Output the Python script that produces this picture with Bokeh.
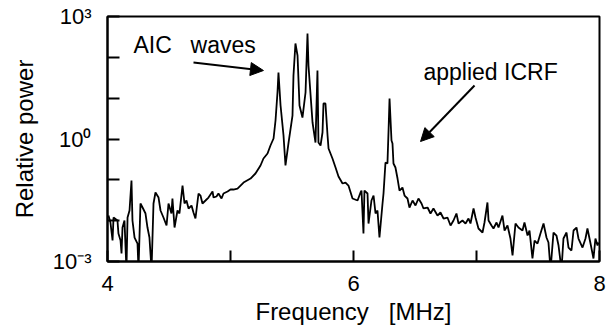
from bokeh.plotting import figure
from bokeh.models import Range1d, FixedTicker, Arrow, NormalHead, Label
from bokeh.embed import file_html
from bokeh.resources import INLINE

# ---- data ----
freq_mhz = [
    4.008, 4.024, 4.041, 4.049, 4.081, 4.089, 4.106, 4.114, 4.122, 4.138,
    4.154, 4.163, 4.179, 4.195, 4.203, 4.220, 4.244, 4.252, 4.268, 4.285,
    4.309, 4.325, 4.341, 4.358, 4.374, 4.390, 4.415, 4.431, 4.455, 4.480,
    4.496, 4.520, 4.528, 4.545, 4.569, 4.585, 4.610, 4.626, 4.642, 4.659,
    4.683, 4.699, 4.715, 4.740, 4.756, 4.772, 4.797, 4.821, 4.854, 4.862,
    4.886, 4.902, 4.927, 4.943, 4.976, 5.000, 5.024, 5.057, 5.106, 5.163,
    5.203, 5.244, 5.268, 5.301, 5.325, 5.350, 5.366, 5.382, 5.390, 5.407,
    5.431, 5.447, 5.472, 5.504, 5.512, 5.528, 5.545, 5.561, 5.585, 5.610,
    5.626, 5.634, 5.667, 5.691, 5.707, 5.715, 5.732, 5.748, 5.756, 5.772,
    5.789, 5.797, 5.829, 5.854, 5.878, 5.911, 5.935, 5.959, 5.992, 6.033,
    6.057, 6.065, 6.081, 6.089, 6.114, 6.122, 6.146, 6.163, 6.179, 6.195,
    6.211, 6.236, 6.244, 6.260, 6.276, 6.285, 6.293, 6.309, 6.317, 6.325,
    6.341, 6.358, 6.374, 6.398, 6.415, 6.439, 6.455, 6.480, 6.504, 6.528,
    6.553, 6.569, 6.602, 6.626, 6.650, 6.683, 6.707, 6.732, 6.764, 6.789,
    6.813, 6.837, 6.854, 6.886, 6.911, 6.935, 6.951, 6.976, 6.992, 7.016,
    7.049, 7.065, 7.089, 7.098, 7.122, 7.138, 7.163, 7.179, 7.211, 7.228,
    7.252, 7.276, 7.293, 7.317, 7.341, 7.374, 7.390, 7.415, 7.431, 7.455,
    7.472, 7.496, 7.520, 7.545, 7.569, 7.585, 7.602, 7.626, 7.650, 7.667,
    7.691, 7.707, 7.732, 7.748, 7.772, 7.789, 7.813, 7.829, 7.862, 7.886,
    7.902, 7.927, 7.951, 7.967, 7.984, 7.992,
]
log_power = [
    -1.874, -2.045, -2.486, -1.923, -1.996, -2.315, -2.486, -2.805, -2.168, -1.996,
    -3.200, -1.923, -1.751, -1.017, -1.996, -2.413, -2.560, -3.200, -1.580, -1.678,
    -1.825, -2.168, -2.413, -3.200, -1.580, -1.310, -1.433, -1.751, -1.923, -2.119,
    -1.580, -1.825, -1.457, -2.168, -1.751, -1.825, -1.139, -1.580, -1.506, -1.702,
    -1.629, -1.800, -1.947, -1.335, -1.384, -1.580, -1.506, -1.433, -1.286, -1.433,
    -1.408, -1.335, -1.457, -1.335, -1.286, -1.237, -1.237, -1.213, -1.066, -0.968,
    -0.845, -0.649, -0.478, -0.355, -0.159, 0.012, 0.453, 1.139, 1.628, 0.820,
    0.085, -0.649, -0.086, 0.575, 1.555, 2.339, 2.045, 0.820, 0.526, 1.139,
    2.583, 1.800, 0.404, -0.086, 1.677, -0.086, -0.159, 0.159, 0.869, 0.869,
    0.085, -0.233, -0.478, -0.698, -0.919, -1.090, -1.066, -1.139, -1.457, -1.506,
    -1.310, -1.262, -2.315, -1.262, -1.335, -2.070, -1.506, -1.384, -1.825, -1.751,
    -2.413, -1.580, -1.335, -0.576, -0.600, 0.208, 0.992, -0.037, -0.110, -0.600,
    -0.698, -0.968, -1.262, -1.188, -1.384, -1.457, -1.678, -1.506, -1.629, -1.457,
    -1.580, -1.702, -1.678, -1.825, -1.702, -1.874, -1.800, -1.947, -1.923, -2.119,
    -1.996, -1.825, -2.070, -1.996, -2.070, -1.947, -2.070, -1.702, -1.923, -2.192,
    -2.290, -2.045, -1.555, -1.996, -2.119, -2.192, -2.045, -2.168, -1.874, -2.241,
    -2.119, -2.437, -2.853, -2.070, -2.168, -2.241, -2.045, -2.364, -2.241, -2.927,
    -2.486, -2.560, -2.315, -2.070, -2.413, -2.535, -3.200, -2.290, -2.364, -2.609,
    -3.200, -2.437, -2.290, -2.658, -2.731, -2.241, -2.168, -2.437, -2.658, -2.437,
    -2.192, -2.560, -2.927, -2.437, -2.609, -2.535,
]
power = [10 ** v for v in log_power]

x_ticks = [4, 5, 6, 7, 8]
x_tick_labels = {4: "4", 5: "", 6: "6", 7: "", 8: "8"}
y_ticks = [0.001, 0.01, 0.1, 1, 10, 100, 1000]
y_tick_labels = {0.001: "10\u207b\u00b3", 0.01: "", 0.1: "", 1: "10\u2070",
                 10: "", 100: "", 1000: "10\u00b3"}

FONT = "Liberation Sans"

p = figure(width=606, height=329, output_backend="svg", toolbar_location=None,
           y_axis_type="log", x_range=Range1d(4, 8), y_range=Range1d(1e-3, 1e3),
           min_border_left=107, min_border_right=7, min_border_top=16,
           min_border_bottom=68)
p.background_fill_color = "white"
p.border_fill_color = "white"
p.outline_line_color = "black"
p.outline_line_width = 2
p.xgrid.visible = False
p.ygrid.visible = False

p.line(freq_mhz, power, line_color="black", line_width=1.8)

# axes
xa = p.xaxis[0]
xa.ticker = FixedTicker(ticks=x_ticks)
xa.major_label_overrides = x_tick_labels
xa.major_tick_in = 11
xa.major_tick_out = 0
xa.minor_tick_line_color = None
xa.axis_line_width = 2
xa.major_tick_line_width = 2
xa.major_label_standoff = 14
xa.major_label_text_font = FONT
xa.major_label_text_font_size = "22px"
xa.major_label_text_color = "black"
xa.axis_label = "Frequency\u00a0\u00a0\u00a0[MHz]"
xa.axis_label_text_font = FONT
xa.axis_label_text_font_size = "24px"
xa.axis_label_text_font_style = "normal"
xa.axis_label_text_color = "black"
xa.axis_label_standoff = 4

ya = p.yaxis[0]
ya.ticker = FixedTicker(ticks=y_ticks)
ya.major_label_overrides = y_tick_labels
ya.major_tick_in = 12
ya.major_tick_out = 0
ya.minor_tick_line_color = None
ya.axis_line_width = 2
ya.major_tick_line_width = 2
ya.major_label_standoff = 16
ya.major_label_text_font = FONT
ya.major_label_text_font_size = "22px"
ya.major_label_text_color = "black"
ya.axis_label = "Relative power"
ya.axis_label_text_font = FONT
ya.axis_label_text_font_size = "24px"
ya.axis_label_text_font_style = "normal"
ya.axis_label_text_color = "black"
ya.axis_label_standoff = 12

# annotations
p.add_layout(Label(x=4.211, y=10 ** 2.314, text="AIC", text_font=FONT,
                   text_font_size="23px", text_color="black",
                   text_baseline="alphabetic"))
p.add_layout(Label(x=4.675, y=10 ** 2.314, text="waves", text_font=FONT,
                   text_font_size="23px", text_color="black",
                   text_baseline="alphabetic"))
p.add_layout(Label(x=6.569, y=10 ** 1.653, text="applied ICRF", text_font=FONT,
                   text_font_size="23px", text_color="black",
                   text_baseline="alphabetic"))

p.add_layout(Arrow(x_start=4.699, y_start=10 ** 1.873, x_end=5.268, y_end=10 ** 1.677,
                   line_width=2, line_color="black",
                   end=NormalHead(size=13, fill_color="black", line_color="black")))
p.add_layout(Arrow(x_start=6.984, y_start=10 ** 1.310, x_end=6.545, y_end=10 ** -0.061,
                   line_width=2, line_color="black",
                   end=NormalHead(size=13, fill_color="black", line_color="black")))

open("out.html", "w").write(file_html(p, INLINE))
